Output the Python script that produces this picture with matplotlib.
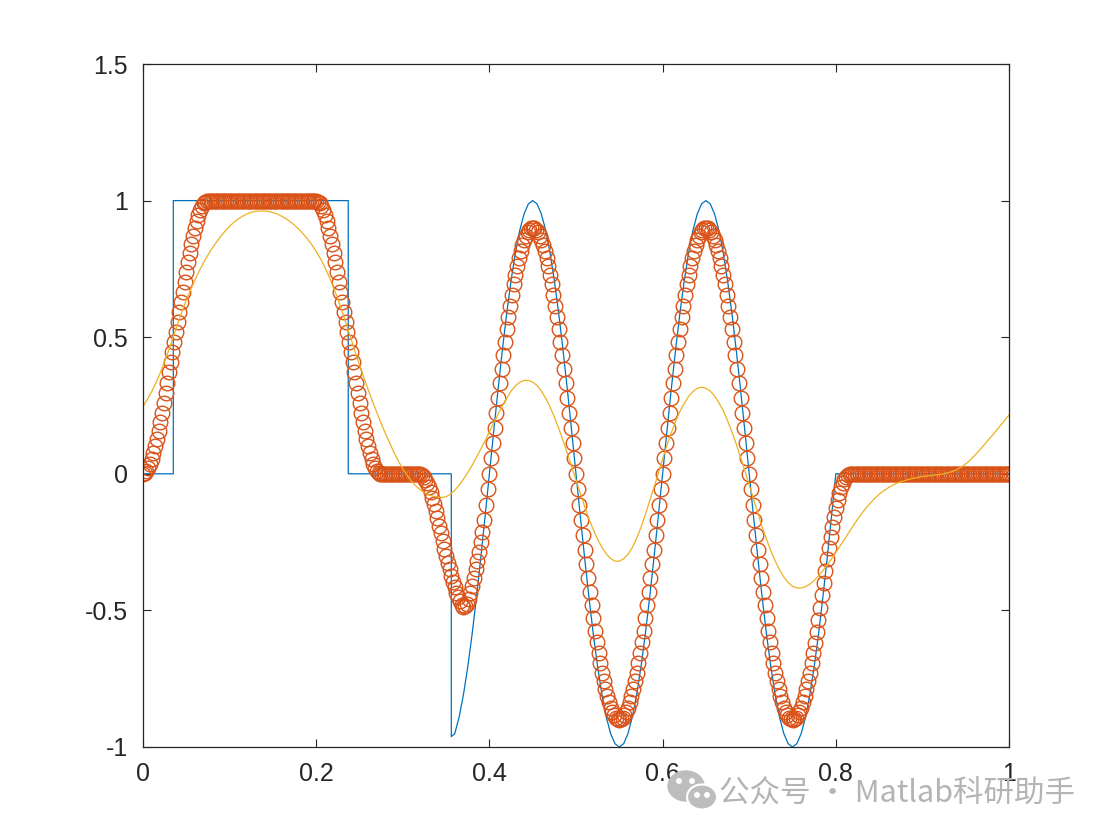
import numpy as np
import matplotlib.pyplot as plt
from matplotlib.patches import Ellipse

# ---- dane ----
# linia niebieska: sygnał oryginalny (schodek + sinusoida)
blue_step_x = [0.0, 0.035, 0.035, 0.237, 0.237, 0.356, 0.356]
blue_step_y = [0.0, 0.0, 1.0, 1.0, 0.0, 0.0, -0.962]
blue_wave = [
    -0.951, -0.891, -0.809, -0.707, -0.588, -0.454, -0.309, -0.156,
    0.0, 0.156, 0.309, 0.454, 0.588, 0.707, 0.809, 0.891, 0.951, 0.988,
    1.0, 0.988, 0.951, 0.891, 0.809, 0.707, 0.588, 0.454, 0.309, 0.156,
    0.0, -0.156, -0.309, -0.454, -0.588, -0.707, -0.809, -0.891, -0.951, -0.988,
    -1.0, -0.988, -0.951, -0.891, -0.809, -0.707, -0.588, -0.454, -0.309, -0.156,
    0.0, 0.156, 0.309, 0.454, 0.588, 0.707, 0.809, 0.891, 0.951, 0.988,
    1.0, 0.988, 0.951, 0.891, 0.809, 0.707, 0.588, 0.454, 0.309, 0.156,
    0.0, -0.156, -0.309, -0.454, -0.588, -0.707, -0.809, -0.891, -0.951, -0.988,
    -1.0, -0.988, -0.951, -0.891, -0.809, -0.707, -0.588, -0.454, -0.309, -0.156,
    0.0,
]
blue_tail_x = [1.0]
blue_tail_y = [0.0]

# kółka: sygnał wygładzony, próbki co 0.002
circ_rise = [
    0.000, 0.004, 0.010, 0.020, 0.035, 0.053, 0.075, 0.100, 0.128, 0.158,
    0.190, 0.224, 0.260, 0.297, 0.334, 0.371, 0.408, 0.445, 0.482, 0.518,
    0.555, 0.592, 0.629, 0.666, 0.703, 0.740, 0.776, 0.810, 0.842, 0.872,
    0.900, 0.925, 0.947, 0.965, 0.980, 0.990, 0.996, 0.999,
]
circ_top = [
    1.0, 1.0, 1.0, 1.0, 1.0, 1.0, 1.0, 1.0, 1.0, 1.0,
    1.0, 1.0, 1.0, 1.0, 1.0, 1.0, 1.0, 1.0, 1.0, 1.0,
    1.0, 1.0, 1.0, 1.0, 1.0, 1.0, 1.0, 1.0, 1.0, 1.0,
    1.0, 1.0, 1.0, 1.0, 1.0, 1.0, 1.0, 1.0, 1.0, 1.0,
    1.0, 1.0, 1.0, 1.0, 1.0, 1.0, 1.0, 1.0, 1.0, 1.0,
    1.0, 1.0, 1.0, 1.0, 1.0, 1.0, 1.0, 1.0, 1.0, 1.0,
    1.0, 1.0,
]
circ_fall = [
    0.999, 0.996, 0.990, 0.980, 0.965, 0.947, 0.925, 0.900, 0.872, 0.842,
    0.810, 0.776, 0.740, 0.703, 0.666, 0.629, 0.592, 0.555, 0.518, 0.482,
    0.445, 0.408, 0.371, 0.334, 0.297, 0.260, 0.224, 0.190, 0.158, 0.128,
    0.100, 0.075, 0.053, 0.035, 0.020, 0.010, 0.004, 0.001,
]
circ_gap = [
    0.0, 0.0, 0.0, 0.0, 0.0, 0.0, 0.0, 0.0, 0.0, 0.0, 0.0,
    0.0, 0.0, 0.0, 0.0, 0.0, 0.0, 0.0, 0.0, 0.0, 0.0, 0.0,
]
circ_dip = [
    -0.002, -0.006, -0.013, -0.022, -0.035, -0.050, -0.068, -0.089, -0.112, -0.137,
    -0.163, -0.190, -0.218, -0.246, -0.274, -0.300, -0.325, -0.350, -0.373, -0.395,
    -0.415, -0.435, -0.452, -0.467, -0.479, -0.486, -0.485, -0.476, -0.460, -0.437,
    -0.410, -0.380, -0.350, -0.318, -0.285, -0.250, -0.213, -0.170, -0.115, -0.057,
]
circ_wave = [
    0.0, 0.057, 0.113, 0.169, 0.224, 0.278, 0.331, 0.383, 0.434, 0.482, 0.529, 0.574, 0.616,
    0.656, 0.694, 0.728, 0.760, 0.789, 0.814, 0.837, 0.856, 0.872, 0.884, 0.893, 0.898, 0.900,
    0.898, 0.893, 0.884, 0.872, 0.856, 0.837, 0.814, 0.789, 0.760, 0.728, 0.694, 0.656,
    0.616, 0.574, 0.529, 0.482, 0.434, 0.383, 0.331, 0.278, 0.224, 0.169, 0.113, 0.057,
    0.0, -0.057, -0.113, -0.169, -0.224, -0.278, -0.331, -0.383, -0.434, -0.482, -0.529, -0.574, -0.616,
    -0.656, -0.694, -0.728, -0.760, -0.789, -0.814, -0.837, -0.856, -0.872, -0.884, -0.893, -0.898, -0.900,
    -0.898, -0.893, -0.884, -0.872, -0.856, -0.837, -0.814, -0.789, -0.760, -0.728, -0.694, -0.656,
    -0.616, -0.574, -0.529, -0.482, -0.434, -0.383, -0.331, -0.278, -0.224, -0.169, -0.113, -0.057,
    0.0, 0.057, 0.113, 0.169, 0.224, 0.278, 0.331, 0.383, 0.434, 0.482, 0.529, 0.574, 0.616,
    0.656, 0.694, 0.728, 0.760, 0.789, 0.814, 0.837, 0.856, 0.872, 0.884, 0.893, 0.898, 0.900,
    0.898, 0.893, 0.884, 0.872, 0.856, 0.837, 0.814, 0.789, 0.760, 0.728, 0.694, 0.656,
    0.616, 0.574, 0.529, 0.482, 0.434, 0.383, 0.331, 0.278, 0.224, 0.169, 0.113, 0.057,
    0.0, -0.057, -0.113, -0.169, -0.224, -0.278, -0.331, -0.383, -0.434, -0.482, -0.529, -0.574, -0.616,
    -0.656, -0.694, -0.728, -0.760, -0.789, -0.814, -0.837, -0.856, -0.872, -0.884, -0.893, -0.898, -0.900,
    -0.898, -0.893, -0.884, -0.872, -0.856, -0.837, -0.814, -0.789, -0.760, -0.728, -0.694, -0.656,
]
circ_end = [
    -0.620, -0.578, -0.535, -0.490, -0.445, -0.400, -0.356, -0.312, -0.270, -0.230, -0.193,
    -0.158, -0.126, -0.097, -0.072, -0.050, -0.033, -0.020, -0.011, -0.005, -0.002, -0.001,
]
circ_flat = [
    0.0, 0.0, 0.0, 0.0, 0.0, 0.0, 0.0, 0.0, 0.0, 0.0,
    0.0, 0.0, 0.0, 0.0, 0.0, 0.0, 0.0, 0.0, 0.0, 0.0,
    0.0, 0.0, 0.0, 0.0, 0.0, 0.0, 0.0, 0.0, 0.0, 0.0,
    0.0, 0.0, 0.0, 0.0, 0.0, 0.0, 0.0, 0.0, 0.0, 0.0,
    0.0, 0.0, 0.0, 0.0, 0.0, 0.0, 0.0, 0.0, 0.0, 0.0,
    0.0, 0.0, 0.0, 0.0, 0.0, 0.0, 0.0, 0.0, 0.0, 0.0,
    0.0, 0.0, 0.0, 0.0, 0.0, 0.0, 0.0, 0.0, 0.0, 0.0,
    0.0, 0.0, 0.0, 0.0, 0.0, 0.0, 0.0, 0.0, 0.0, 0.0,
    0.0, 0.0, 0.0, 0.0, 0.0, 0.0, 0.0, 0.0, 0.0, 0.0,
    0.0,
]

# linia żółta: mocniej wygładzony sygnał, próbki co 0.005
yellow_y = [
    0.246, 0.272, 0.301, 0.333, 0.370, 0.411, 0.455, 0.502, 0.549, 0.594,
    0.636, 0.674, 0.710, 0.743, 0.773, 0.801, 0.826, 0.849, 0.870, 0.889,
    0.906, 0.921, 0.933, 0.943, 0.951, 0.957, 0.961, 0.962, 0.962, 0.960,
    0.956, 0.951, 0.943, 0.934, 0.923, 0.910, 0.895, 0.878, 0.859, 0.838,
    0.814, 0.787, 0.756, 0.721, 0.682, 0.640, 0.594, 0.545, 0.495, 0.446,
    0.398, 0.352, 0.308, 0.265, 0.224, 0.184, 0.147, 0.112, 0.077, 0.046,
    0.018, -0.006, -0.027, -0.044, -0.058, -0.069, -0.077, -0.082, -0.085, -0.087,
    -0.084, -0.075, -0.060, -0.042, -0.020, 0.004, 0.031, 0.060, 0.090, 0.121,
    0.154, 0.186, 0.218, 0.249, 0.277, 0.303, 0.322, 0.335, 0.342, 0.342,
    0.336, 0.323, 0.303, 0.277, 0.245, 0.208, 0.167, 0.122, 0.075, 0.026,
    -0.024, -0.073, -0.120, -0.165, -0.205, -0.240, -0.270, -0.294, -0.310, -0.320,
    -0.320, -0.311, -0.295, -0.270, -0.236, -0.196, -0.150, -0.100, -0.050, 0.002,
    0.055, 0.105, 0.150, 0.192, 0.228, 0.258, 0.283, 0.301, 0.313, 0.317,
    0.313, 0.303, 0.285, 0.260, 0.231, 0.195, 0.154, 0.109, 0.061, 0.012,
    -0.041, -0.092, -0.143, -0.195, -0.240, -0.282, -0.319, -0.351, -0.378, -0.398,
    -0.412, -0.418, -0.418, -0.413, -0.404, -0.391, -0.374, -0.355, -0.334, -0.312,
    -0.288, -0.264, -0.240, -0.215, -0.191, -0.167, -0.145, -0.125, -0.107, -0.090,
    -0.075, -0.063, -0.052, -0.043, -0.035, -0.029, -0.024, -0.020, -0.016, -0.013,
    -0.010, -0.008, -0.006, -0.004, -0.002, 0.000, 0.004, 0.009, 0.016, 0.025,
    0.036, 0.050, 0.066, 0.083, 0.101, 0.120, 0.138, 0.157, 0.176, 0.196,
    0.215,
]

xticks = [0, 0.2, 0.4, 0.6, 0.8, 1]
xtick_labels = ["0", "0.2", "0.4", "0.6", "0.8", "1"]
yticks = [-1, -0.5, 0, 0.5, 1, 1.5]
ytick_labels = ["-1", "-0.5", "0", "0.5", "1", "1.5"]

# ---- składanie serii ----
blue_x = blue_step_x + list(np.linspace(0.36, 0.80, len(blue_wave))) + blue_tail_x
blue_y = blue_step_y + blue_wave + blue_tail_y
circ_y = circ_rise + circ_top + circ_fall + circ_gap + circ_dip + circ_wave + circ_end + circ_flat
circ_x = np.linspace(0, 1, len(circ_y))
yellow_x = np.linspace(0, 1, len(yellow_y))

plt.rcParams['font.family'] = ['Liberation Sans', 'DejaVu Sans']

W, H = 1107, 833
fig = plt.figure(figsize=(W / 100, H / 100), dpi=100)
ax = fig.add_axes([143 / W, 1 - 747 / H, 866 / W, 683 / H])

ax.plot(blue_x, blue_y, color='#0072BD', lw=0.9)
ax.plot(circ_x, circ_y, 'o', ms=10.5, mfc='none', mec='#D95319', mew=1.0)
ax.plot(yellow_x, yellow_y, color='#EDB120', lw=0.9)

ax.set_xlim(0, 1)
ax.set_ylim(-1, 1.5)
ax.set_xticks(xticks)
ax.set_xticklabels(xtick_labels)
ax.set_yticks(yticks)
ax.set_yticklabels(ytick_labels)
ax.tick_params(direction='in', length=6, width=0.8, colors='#262626',
               labelsize=18, pad=11, top=True, right=True)
for s in ax.spines.values():
    s.set_color('#262626')
    s.set_linewidth(0.9)

# znak wodny
fig.patches.append(Ellipse((686 / W, 1 - 786 / H), 36 / W, 30 / H,
                           transform=fig.transFigure, color='#bdbdbd', zorder=5))
fig.patches.append(Ellipse((702 / W, 1 - 797 / H), 30 / W, 25 / H,
                           transform=fig.transFigure, fc='#bdbdbd', ec='white',
                           lw=1.5, zorder=6))
for ex, ey in [(679, 781), (692, 781), (697, 795), (707, 795)]:
    fig.patches.append(Ellipse((ex / W, 1 - ey / H), 4.5 / W, 4.5 / H,
                               transform=fig.transFigure, color='white', zorder=7))
fig.text(719 / W, 1 - 793 / H, "公众号 · Matlab科研助手", fontsize=22,
         color='#b4b4b4', va='center', ha='left',
         family=['Noto Sans CJK SC', 'DejaVu Sans'])

fig.savefig('out.png', dpi=100, facecolor='white')
